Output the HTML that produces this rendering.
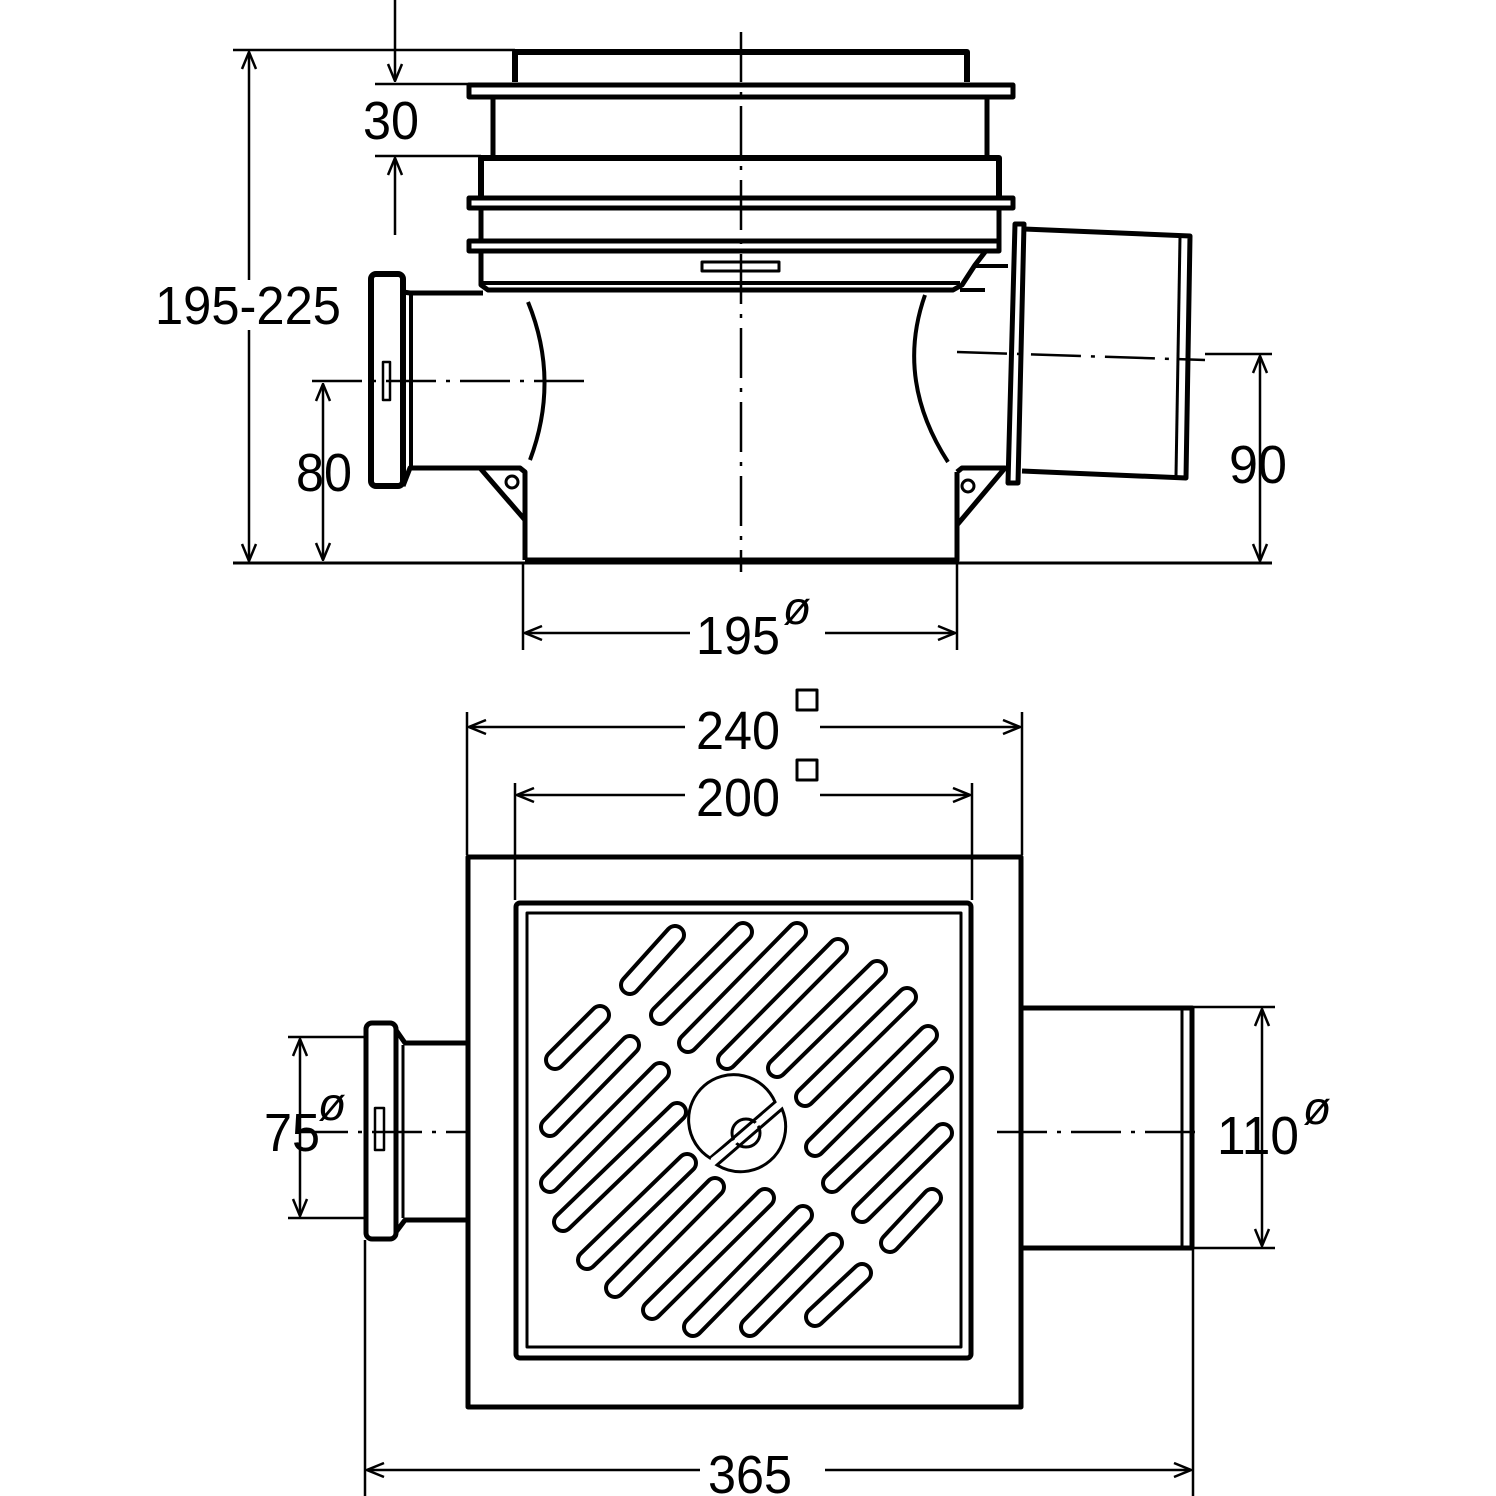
<!DOCTYPE html>
<html><head><meta charset="utf-8"><style>
html,body{margin:0;padding:0;background:#fff}
svg{display:block}
text{font-family:"Liberation Sans Narrow","Liberation Sans",sans-serif;fill:#000}
</style></head><body>
<svg width="1496" height="1496" viewBox="0 0 1496 1496" xmlns="http://www.w3.org/2000/svg">
<defs>
<marker id="a" viewBox="0 0 20 20" refX="19" refY="10" markerWidth="20" markerHeight="20" markerUnits="userSpaceOnUse" orient="auto-start-reverse">
<path d="M2,3 L19,10 L2,17" fill="none" stroke="#000" stroke-width="2.5"/>
</marker>
</defs>
<g fill="none" stroke="#000" stroke-linejoin="round">
<line x1="741" y1="32" x2="741" y2="572" stroke-width="2.5" stroke-dasharray="50,10,4,10"/>
<path d="M515,82 V52 H967 V82" stroke-width="6"/>
<rect x="469" y="85" width="544" height="12" stroke-width="5"/>
<line x1="493" y1="97" x2="493" y2="157" stroke-width="5"/>
<line x1="987" y1="97" x2="987" y2="157" stroke-width="5"/>
<path d="M481,198 V158 H999 V198" stroke-width="6"/>
<rect x="469" y="198" width="544" height="10" stroke-width="5"/>
<line x1="481" y1="208" x2="481" y2="241" stroke-width="5"/>
<line x1="999" y1="208" x2="999" y2="241" stroke-width="5"/>
<rect x="469" y="241" width="530" height="10" stroke-width="5"/>
<path d="M481,251 V285 L488,290 H953 L962,285 L975,265 L985,252" stroke-width="5"/>
<line x1="483" y1="283" x2="960" y2="283" stroke-width="4"/>
<rect x="702" y="262" width="77" height="9" stroke-width="3"/>
<path d="M975,266 H1008 M960,290 L985,290" stroke-width="4"/>
<rect x="371" y="274" width="32" height="212" rx="5" stroke-width="6"/>
<path d="M403,292 L410,293 H483" stroke-width="5"/>
<line x1="411" y1="294" x2="411" y2="466" stroke-width="4"/>
<path d="M403,486 L410,468 H520 L525,472 V560" stroke-width="5"/>
<path d="M528,302 Q560,380 530,460" stroke-width="4"/>
<path d="M480,468 L525,520" stroke-width="5"/>
<circle cx="512" cy="482" r="6" stroke-width="3"/>
<rect x="383" y="362" width="7" height="38" stroke-width="2.5"/>
<path d="M525,560 H957 V472" stroke-width="5"/>
<path d="M925,295 Q895,380 948,462" stroke-width="4"/>
<path d="M957,472 L962,468 H1005 L957,525" stroke-width="5"/>
<circle cx="968" cy="486" r="6" stroke-width="3"/>
<path d="M1015,224 L1008,483 L1018,483 L1024,224 Z" stroke-width="5"/>
<path d="M1024,229 L1190,236 L1186,478 L1022,471" stroke-width="5"/>
<line x1="1180" y1="237" x2="1176" y2="476" stroke-width="3"/>
<line x1="312" y1="381" x2="590" y2="381" stroke-width="2.5" stroke-dasharray="50,10,4,10"/>
<line x1="957" y1="352" x2="1205" y2="360" stroke-width="2.5" stroke-dasharray="50,10,4,10"/>

<line x1="233" y1="50" x2="515" y2="50" stroke-width="2.5"/>
<line x1="233" y1="563" x2="1272" y2="563" stroke-width="3"/>
<line x1="249" y1="52" x2="249" y2="561" stroke-width="2.5" marker-start="url(#a)" marker-end="url(#a)"/>
<line x1="395" y1="0" x2="395" y2="81" stroke-width="2.5" marker-end="url(#a)"/>
<line x1="395" y1="235" x2="395" y2="158" stroke-width="2.5" marker-end="url(#a)"/>
<line x1="375" y1="84" x2="470" y2="84" stroke-width="2.5"/>
<line x1="375" y1="156" x2="481" y2="156" stroke-width="2.5"/>
<line x1="323" y1="560" x2="323" y2="384" stroke-width="2.5" marker-start="url(#a)" marker-end="url(#a)"/>
<line x1="1205" y1="354" x2="1272" y2="354" stroke-width="2.5"/>
<line x1="1260" y1="356" x2="1260" y2="561" stroke-width="2.5" marker-start="url(#a)" marker-end="url(#a)"/>
<line x1="523" y1="563" x2="523" y2="650" stroke-width="2.5"/>
<line x1="957" y1="563" x2="957" y2="650" stroke-width="2.5"/>
<line x1="525" y1="633" x2="690" y2="633" stroke-width="2.5" marker-start="url(#a)"/>
<line x1="825" y1="633" x2="955" y2="633" stroke-width="2.5" marker-end="url(#a)"/>

<line x1="467" y1="712" x2="467" y2="855" stroke-width="2.5"/>
<line x1="1022" y1="712" x2="1022" y2="855" stroke-width="2.5"/>
<line x1="469" y1="727" x2="685" y2="727" stroke-width="2.5" marker-start="url(#a)"/>
<line x1="820" y1="727" x2="1020" y2="727" stroke-width="2.5" marker-end="url(#a)"/>
<rect x="797" y="690" width="20" height="20" stroke-width="3"/>
<line x1="515" y1="783" x2="515" y2="900" stroke-width="2.5"/>
<line x1="972" y1="783" x2="972" y2="900" stroke-width="2.5"/>
<line x1="517" y1="795" x2="685" y2="795" stroke-width="2.5" marker-start="url(#a)"/>
<line x1="820" y1="795" x2="970" y2="795" stroke-width="2.5" marker-end="url(#a)"/>
<rect x="797" y="760" width="20" height="20" stroke-width="3"/>

<rect x="468" y="857" width="553" height="550" stroke-width="5"/>
<rect x="516" y="903" width="455" height="455" rx="4" stroke-width="5"/>
<rect x="527" y="913" width="434" height="434" stroke-width="3"/>

<rect x="366" y="1023" width="30" height="216" rx="6" stroke-width="5"/>
<path d="M396,1030 L405,1043 H466 M396,1232 L405,1220 H466" stroke-width="5"/>
<line x1="403" y1="1045" x2="403" y2="1218" stroke-width="3"/>
<rect x="375" y="1108" width="9" height="42" stroke-width="2.5"/>
<line x1="298" y1="1132" x2="466" y2="1132" stroke-width="2.5" stroke-dasharray="50,10,4,10"/>
<line x1="288" y1="1037" x2="366" y2="1037" stroke-width="2.5"/>
<line x1="288" y1="1218" x2="366" y2="1218" stroke-width="2.5"/>
<line x1="300" y1="1039" x2="300" y2="1216" stroke-width="2.5" marker-start="url(#a)" marker-end="url(#a)"/>
<path d="M1022,1008 H1192 V1248 H1022" stroke-width="5"/>
<line x1="1182" y1="1010" x2="1182" y2="1246" stroke-width="3"/>
<line x1="997" y1="1132" x2="1202" y2="1132" stroke-width="2.5" stroke-dasharray="50,10,4,10"/>
<line x1="1192" y1="1007" x2="1275" y2="1007" stroke-width="2.5"/>
<line x1="1192" y1="1248" x2="1275" y2="1248" stroke-width="2.5"/>
<line x1="1262" y1="1009" x2="1262" y2="1246" stroke-width="2.5" marker-start="url(#a)" marker-end="url(#a)"/>
<line x1="365" y1="1240" x2="365" y2="1496" stroke-width="2.5"/>
<line x1="1193" y1="1248" x2="1193" y2="1496" stroke-width="2.5"/>
<line x1="367" y1="1470" x2="700" y2="1470" stroke-width="2.5" marker-start="url(#a)"/>
<line x1="825" y1="1470" x2="1191" y2="1470" stroke-width="2.5" marker-end="url(#a)"/>
</g>

<g stroke-linecap="round" fill="none">
<g stroke="#000" stroke-width="22">
<path d="M675,935 L630,985 M743,932 L660,1015 M797,932 L688,1043 M838,948 L727,1060 M877,970 L777,1068 M907,997 L805,1097 M928,1035 L815,1147 M943,1077 L832,1183 M943,1133 L862,1213 M932,1198 L890,1243 M600,1015 L555,1060 M630,1045 L550,1127 M660,1072 L550,1183 M677,1112 L563,1222 M687,1163 L587,1260 M715,1187 L615,1288 M765,1198 L652,1310 M803,1215 L693,1327 M833,1243 L750,1327 M862,1273 L815,1317"/>
</g>
<g stroke="#fff" stroke-width="14">
<path d="M675,935 L630,985 M743,932 L660,1015 M797,932 L688,1043 M838,948 L727,1060 M877,970 L777,1068 M907,997 L805,1097 M928,1035 L815,1147 M943,1077 L832,1183 M943,1133 L862,1213 M932,1198 L890,1243 M600,1015 L555,1060 M630,1045 L550,1127 M660,1072 L550,1183 M677,1112 L563,1222 M687,1163 L587,1260 M715,1187 L615,1288 M765,1198 L652,1310 M803,1215 L693,1327 M833,1243 L750,1327 M862,1273 L815,1317"/>
</g>
</g>
<g fill="none" stroke="#000" stroke-width="3">
<path d="M775,1102 A45,45 0 1 0 710,1158 Z"/>
<path d="M782,1109 A45,45 0 0 1 717,1165 Z"/>
<circle cx="746" cy="1133" r="14"/>
</g>
<line x1="712" y1="1160" x2="780" y2="1106" stroke="#fff" stroke-width="4"/>

<rect x="152" y="280" width="190" height="50" fill="#fff"/>
<g font-size="54">
<text x="248" y="324" text-anchor="middle" textLength="186" lengthAdjust="spacingAndGlyphs">195-225</text>
<text x="391" y="139" text-anchor="middle" textLength="56" lengthAdjust="spacingAndGlyphs">30</text>
<text x="324" y="491" text-anchor="middle" textLength="56" lengthAdjust="spacingAndGlyphs">80</text>
<text x="1258" y="483" text-anchor="middle" textLength="58" lengthAdjust="spacingAndGlyphs">90</text>
<text x="738" y="654" text-anchor="middle" textLength="84" lengthAdjust="spacingAndGlyphs">195</text>
<text x="738" y="749" text-anchor="middle" textLength="84" lengthAdjust="spacingAndGlyphs">240</text>
<text x="738" y="816" text-anchor="middle" textLength="84" lengthAdjust="spacingAndGlyphs">200</text>
<text x="750" y="1493" text-anchor="middle" textLength="84" lengthAdjust="spacingAndGlyphs">365</text>
<text x="292" y="1151" text-anchor="middle" textLength="56" lengthAdjust="spacingAndGlyphs">75</text>
<text x="1258" y="1154" text-anchor="middle" textLength="82" lengthAdjust="spacingAndGlyphs">110</text>
</g>
<g font-size="46" font-style="italic">
<text x="783" y="624">ø</text>
<text x="318" y="1120">ø</text>
<text x="1303" y="1124">ø</text>
</g>
</svg>
</body></html>
